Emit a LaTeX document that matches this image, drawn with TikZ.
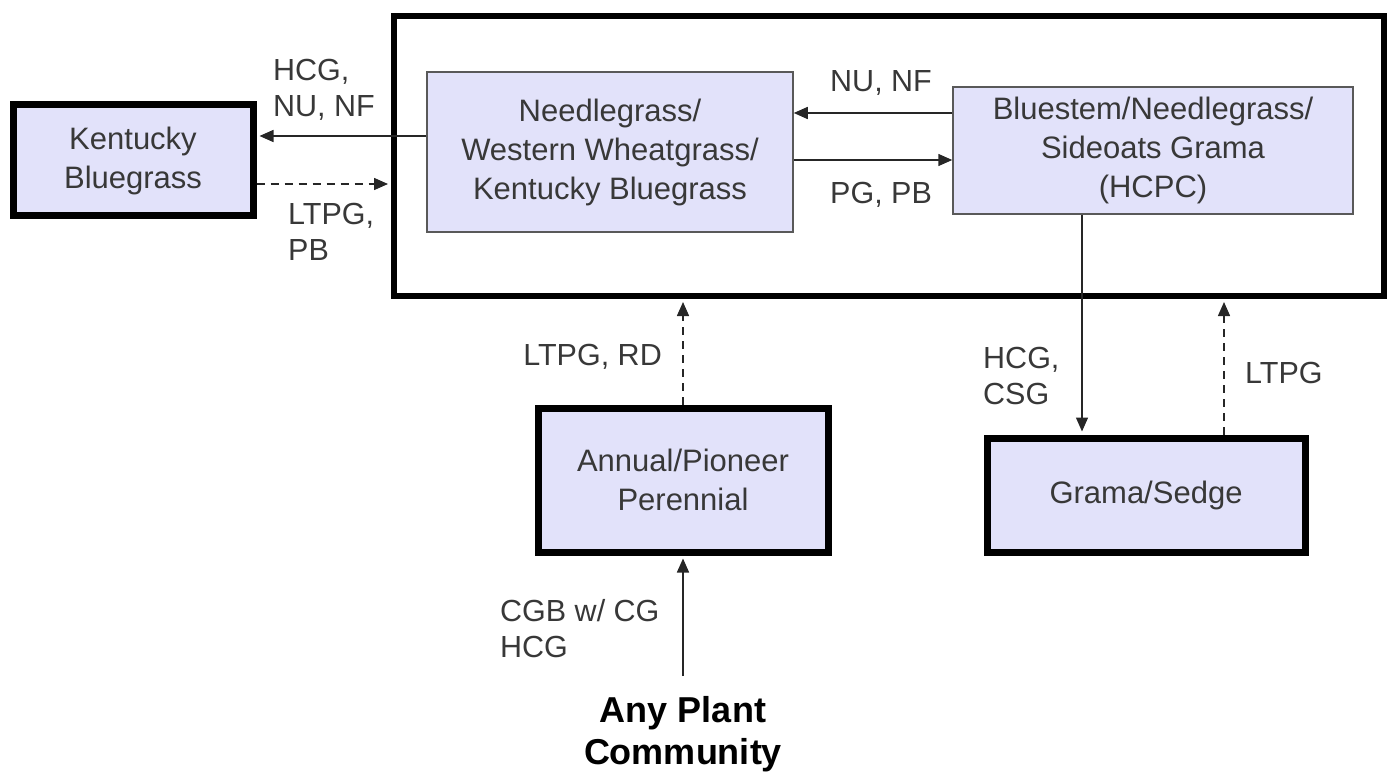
\documentclass[tikz,border=0pt]{standalone}
\usepackage{fontspec}
\setmainfont{Liberation Sans}
\usetikzlibrary{arrows.meta}
\definecolor{boxfill}{HTML}{E2E2FA}
\definecolor{txt}{HTML}{383838}
\begin{document}
\begin{tikzpicture}[x=1pt,y=-1pt,
	box/.style={draw=black!65, line width=1.5pt, fill=boxfill, align=center, text=txt, inner sep=0pt, font=\fontsize{31}{39}\selectfont},
	thickbox/.style={box, draw=black, line width=7pt},
	lbl/.style={align=left, text=txt, inner sep=0pt, anchor=west, font=\fontsize{30.5}{36}\selectfont},
	arr/.style={-{Triangle[length=14pt,width=12pt]}, line width=1.5pt, black!85},
	darr/.style={arr, dash pattern=on 8pt off 6pt}]
		\useasboundingbox (0,0) rectangle (1393,778);
		% frame round the reference group
		\node[draw, line width=6pt, minimum width=990pt, minimum height=280pt, inner sep=0pt] (frame) at (889,156) {};
		% states
		\node[thickbox, minimum width=240pt, minimum height=111pt] (kbg) at (133,160.5) {Kentucky\\Bluegrass};
		\node[box, minimum width=366pt, minimum height=160pt] (needle) at (610,152) {Needlegrass/\\Western Wheatgrass/\\Kentucky Bluegrass};
		\node[box, minimum width=400pt, minimum height=127pt] (blue) at (1153,150.5) {Bluestem/Needlegrass/\\Sideoats Grama\\(HCPC)};
		\node[thickbox, minimum width=318pt, minimum height=114pt] (grama) at (1146,495) {Grama/Sedge};
		\node[thickbox, minimum width=290pt, minimum height=144pt] (annual) at (683,480) {Annual/Pioneer\\Perennial};
		\node[align=center, inner sep=0pt, font=\fontsize{36}{42}\selectfont\bfseries] (any) at (683,734) {Any Plant\\Community};
		% transitions
		\draw[arr, shorten >=3pt] ([yshift=16pt]needle.west) -- ([yshift=16pt]needle.west -| kbg.east);
		\draw[darr, shorten >=3pt] ([yshift=-23.5pt]kbg.east) -- ([yshift=-23.5pt]kbg.east -| frame.west);
		\draw[arr] ([yshift=37.5pt]blue.west) -- ([yshift=37.5pt]blue.west -| needle.east);
		\draw[arr] ([yshift=-8pt]needle.east) -- ([yshift=-8pt]needle.east -| blue.west);
		\draw[arr, shorten >=3pt] ([xshift=-71pt]blue.south) -- ([xshift=-71pt]blue.south |- grama.north);
		\draw[darr, shorten >=3pt] ([xshift=78pt]grama.north) -- ([xshift=78pt]grama.north |- frame.south);
		\draw[darr, shorten >=3pt] (annual.north) -- (frame.south -| annual.north);
		\draw[arr, shorten >=3pt, shorten <=20pt] (any.north) -- (annual.south);
		% labels
		\node[lbl] (lhcg) at (273,90) {HCG,\\NU, NF};
		\node[lbl] (lltpg) at (288,232) {LTPG,\\PB};
		\node[lbl] (lnunf) at (830,83) {NU, NF};
		\node[lbl] (lpgpb) at (830,195) {PG, PB};
		\node[lbl] (lcsg) at (983,376) {HCG,\\CSG};
		\node[lbl] (lltpgr) at (1245,373) {LTPG};
		\node[lbl, anchor=east] (lrd) at (662,357) {LTPG, RD};
		\node[lbl] (lcgb) at (500,629) {CGB w/ CG\\HCG};
\end{tikzpicture}
\end{document}
